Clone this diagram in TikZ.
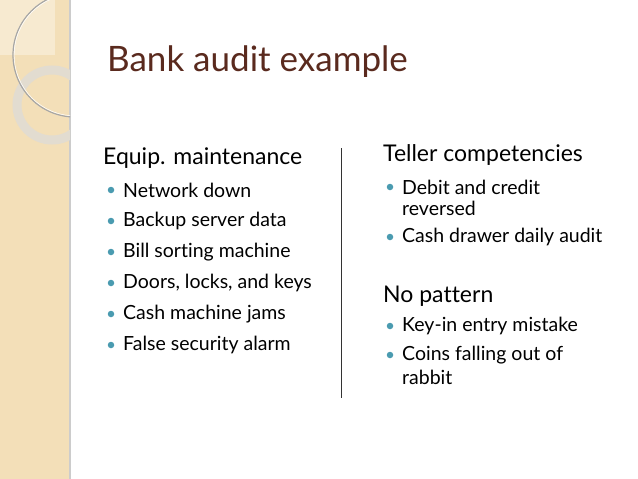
\documentclass[tikz,border=0pt]{standalone}
\usepackage{fontspec}
\setmainfont[Ligatures=NoCommon]{Lato}
\definecolor{titlec}{HTML}{5A2A1E}
\definecolor{bul}{HTML}{4A9BB0}
\definecolor{panel}{HTML}{F3DFB8}
\definecolor{ring}{HTML}{E2DCD0}
\tikzset{x=1pt,y=-1pt,
 item/.style={anchor=west,inner sep=0pt,font=\fontsize{19.5}{22}\selectfont},
 head/.style={anchor=west,inner sep=0pt,font=\fontsize{23}{26}\selectfont},
 dot/.style={circle,fill=bul,inner sep=0pt,minimum size=6.5pt}}
\begin{document}
\begin{tikzpicture}
\useasboundingbox (0,0) rectangle (638,479);
\fill[white] (0,0) rectangle (638,479);
\fill[panel] (0,0) rectangle (70,479);
\draw[black!20,line width=1.5pt] (70,0) -- (70,479);
\begin{scope}
\clip (0,0) rectangle (70,479);
\fill[white,opacity=0.35] (0,0) rectangle (55,55);
\draw[ring,line width=9pt] (52,105) circle (35);
\draw[black!35,line width=1.2pt] (75,55) circle (62);
\draw[white,line width=0.5pt] (75,55) circle (60.8);
\end{scope}
\node[anchor=west,inner sep=0pt,text=titlec,font=\fontsize{35}{40}\selectfont] (title) at (107,62) {Bank audit example};
\node[head] (h1) at (103,158) {Equip. maintenance};
\foreach \y/\t [count=\i] in {190/Network down,221/Backup server data,252/Bill sorting machine,283/{Doors, locks, and keys},314/Cash machine jams,345/False security alarm}{
 \node[dot] (b\i) at (111,\y) {};
 \node[item] (t\i) at (123,\y) {\t};
}
\coordinate (v1) at (341,148); \coordinate (v2) at (341,398);
\draw[black!80,line width=0.8pt] (v1) -- (v2);
\node[head] (h2) at (383,155) {Teller competencies};
\node[dot] (c1) at (390,187) {};
\node[item] (d1) at (402,187) {Debit and credit};
\node[item] (d1b) at (402,208) {reversed};
\node[dot] (c2) at (390,237) {};
\node[item] (d2) at (402,237) {Cash drawer daily audit};
\node[head] (h3) at (383,296) {No pattern};
\node[dot] (c3) at (390,326) {};
\node[item] (d3) at (402,326) {Key-in entry mistake};
\node[dot] (c4) at (390,355) {};
\node[item] (d4) at (402,355) {Coins falling out of};
\node[item] (d4b) at (402,377) {rabbit};
\end{tikzpicture}
\end{document}
